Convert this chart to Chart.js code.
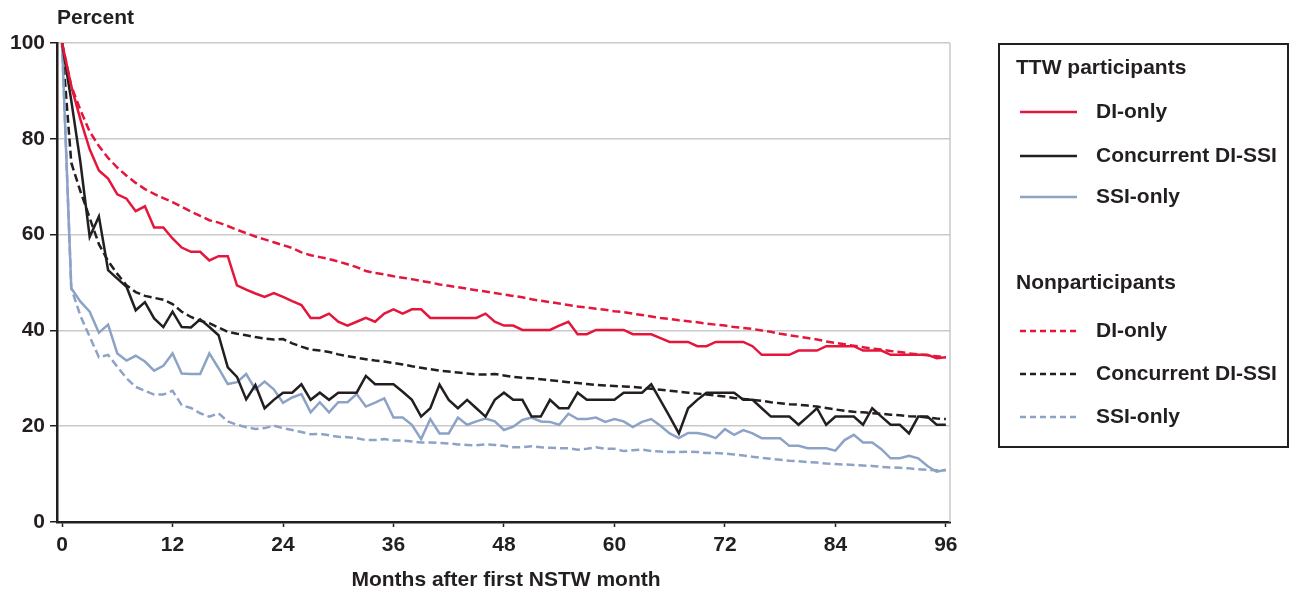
<!DOCTYPE html>
<html>
<head>
<meta charset="utf-8">
<script src="https://cdn.jsdelivr.net/npm/chart.js@4"></script>
<style>
  html, body { margin: 0; padding: 0; background: #fff; }
  #wrap { width: 1290px; height: 589px; position: relative; }
</style>
</head>
<body>
<div id="wrap"><canvas id="chart" width="1290" height="589"></canvas></div>
<script>
const months = Array.from({ length: 97 }, (_, i) => i);
const xTicks = [0, 12, 24, 36, 48, 60, 72, 84, 96];
const yTicks = [0, 20, 40, 60, 80, 100];

// TTW participants
const ttwDI = [100, 91, 84, 77.8, 73.4, 71.7, 68.4, 67.5, 64.9, 65.9,
  61.5, 61.5, 59.2, 57.3, 56.4, 56.4, 54.6, 55.5, 55.5, 49.4,
  48.5, 47.7, 47.0, 47.8, 47.0, 46.1, 45.3, 42.6, 42.6, 43.5,
  41.8, 41.0, 41.8, 42.6, 41.8, 43.5, 44.4, 43.5, 44.4, 44.4,
  42.6, 42.6, 42.6, 42.6, 42.6, 42.6, 43.5, 41.8, 41.0, 41.0,
  40.1, 40.1, 40.1, 40.1, 41.0, 41.8, 39.2, 39.2, 40.1, 40.1,
  40.1, 40.1, 39.2, 39.2, 39.2, 38.4, 37.6, 37.6, 37.6, 36.7,
  36.7, 37.6, 37.6, 37.6, 37.6, 36.7, 34.9, 34.9, 34.9, 34.9,
  35.8, 35.8, 35.8, 36.7, 36.7, 36.7, 36.7, 35.8, 35.8, 35.8,
  34.9, 34.9, 34.9, 34.9, 34.9, 34.2, 34.4];
const ttwConc = [100, 88, 75, 59.5, 63.8, 52.6, 50.8, 49.1, 44.2, 45.9,
  42.5, 40.7, 43.9, 40.7, 40.6, 42.3, 40.7, 39.0, 32.3, 30.3,
  25.6, 28.6, 23.75, 25.5, 27.0, 27.0, 28.75, 25.5, 27.0, 25.5,
  27.0, 27.0, 27.0, 30.5, 28.75, 28.75, 28.75, 27.2, 25.5, 22.0,
  23.75, 28.7, 25.5, 23.75, 25.5, 23.75, 22.0, 25.5, 27.0, 25.5,
  25.5, 22.0, 22.0, 25.5, 23.75, 23.75, 27.0, 25.5, 25.5, 25.5,
  25.5, 27.0, 27.0, 27.0, 28.75, 25.4, 22.0, 18.5, 23.75, 25.5,
  27.0, 27.0, 27.0, 27.0, 25.5, 25.5, 23.75, 22.0, 22.0, 22.0,
  20.3, 22.0, 23.75, 20.3, 22.0, 22.0, 22.0, 20.3, 23.75, 22.0,
  20.3, 20.3, 18.5, 22.0, 22.0, 20.3, 20.3];
const ttwSSI = [100, 48.8, 46.0, 43.9, 39.5, 41.2, 35.2, 33.7, 34.7, 33.5,
  31.6, 32.6, 35.2, 31.0, 30.9, 30.9, 35.2, 32.1, 28.8, 29.2,
  30.9, 27.7, 29.3, 27.7, 24.9, 26.0, 26.7, 22.9, 25.0, 22.9,
  25.0, 25.0, 26.7, 24.1, 24.9, 25.8, 21.8, 21.8, 20.3, 17.3,
  21.5, 18.5, 18.5, 21.8, 20.3, 21.0, 21.6, 21.0, 19.2, 19.9,
  21.3, 21.8, 21.0, 20.9, 20.3, 22.6, 21.5, 21.5, 21.8, 20.9,
  21.5, 21.0, 19.8, 20.9, 21.5, 20.1, 18.5, 17.5, 18.6, 18.6,
  18.2, 17.5, 19.4, 18.2, 19.2, 18.5, 17.5, 17.5, 17.5, 15.9,
  15.9, 15.4, 15.4, 15.4, 14.9, 17.1, 18.2, 16.6, 16.6, 15.2,
  13.3, 13.3, 13.8, 13.3, 11.7, 10.5, 10.9];

// Nonparticipants
const nonDI = [100, 91, 86, 81.5, 78.5, 76, 74, 72.3, 70.8, 69.5,
  68.5, 67.6, 66.8, 65.8, 64.8, 63.9, 63.0, 62.5, 61.8, 61.0,
  60.3, 59.6, 59.0, 58.4, 57.8, 57.2, 56.3, 55.7, 55.3, 54.9,
  54.4, 53.8, 53.2, 52.4, 52.0, 51.7, 51.3, 51.0, 50.7, 50.3,
  50.0, 49.6, 49.3, 49.0, 48.7, 48.4, 48.1, 47.8, 47.5, 47.2,
  46.9, 46.5, 46.2, 45.9, 45.6, 45.3, 45.0, 44.8, 44.5, 44.3,
  44.0, 43.8, 43.5, 43.2, 42.9, 42.6, 42.4, 42.1, 41.9, 41.7,
  41.4, 41.2, 41.0, 40.7, 40.5, 40.3, 40.0, 39.7, 39.3, 39.0,
  38.7, 38.4, 38.1, 37.7, 37.4, 37.1, 36.8, 36.5, 36.2, 36.0,
  35.7, 35.5, 35.2, 35.0, 34.8, 34.6, 34.4];
const nonConc = [100, 75, 69, 63.5, 58, 54.5, 51.8, 49.4, 48.0, 47.2,
  46.8, 46.4, 45.5, 43.9, 42.8, 42.0, 41.5, 40.6, 39.7, 39.3,
  39.0, 38.6, 38.3, 38.1, 38.2, 37.3, 36.6, 36.0, 35.8, 35.5,
  35.0, 34.6, 34.3, 34.0, 33.7, 33.5, 33.2, 32.9, 32.5, 32.2,
  31.9, 31.6, 31.4, 31.2, 31.0, 30.8, 30.8, 30.9, 30.6, 30.3,
  30.1, 30.0, 29.8, 29.6, 29.4, 29.2, 29.0, 28.8, 28.6, 28.5,
  28.4, 28.3, 28.2, 28.0, 27.8, 27.6, 27.4, 27.2, 27.0, 26.8,
  26.6, 26.4, 26.2, 25.9, 25.7, 25.5, 25.3, 25.0, 24.8, 24.6,
  24.5, 24.3, 24.1, 23.8, 23.5, 23.2, 23.0, 22.9, 22.7, 22.6,
  22.4, 22.3, 22.1, 22.0, 21.8, 21.6, 21.5];
const nonSSI = [100, 48.8, 43.0, 38.7, 34.4, 34.9, 32.4, 30.0, 28.2, 27.4,
  26.6, 26.6, 27.4, 24.4, 23.8, 22.7, 22.0, 22.7, 21.0, 20.3,
  19.8, 19.4, 19.6, 20.1, 19.6, 19.2, 18.8, 18.3, 18.4, 18.1,
  17.8, 17.7, 17.5, 17.1, 17.1, 17.3, 17.0, 17.0, 16.8, 16.6,
  16.6, 16.5, 16.4, 16.2, 16.1, 16.0, 16.2, 16.1, 15.9, 15.6,
  15.6, 15.8, 15.6, 15.5, 15.4, 15.4, 15.1, 15.3, 15.6, 15.3,
  15.3, 14.8, 15.0, 15.1, 14.8, 14.7, 14.6, 14.6, 14.7, 14.6,
  14.4, 14.4, 14.3, 14.1, 13.9, 13.6, 13.4, 13.2, 13.0, 12.8,
  12.7, 12.5, 12.4, 12.2, 12.1, 12.0, 11.9, 11.8, 11.7, 11.5,
  11.4, 11.3, 11.2, 11.0, 10.9, 10.8, 10.8];

const RED = '#e4163b';
const BLACK = '#231f20';
const BLUE = '#8da3c6';
const GRID = '#c9c9c9';
const FONT = "'Liberation Sans', Arial, Helvetica, sans-serif";
const DASH = [8, 4];

function pts(values) {
    return months.map((m, i) => ({ x: m, y: values[i] }));
}

function series(label, values, color, dashed) {
    return {
        label: label,
        data: pts(values),
        borderColor: color,
        backgroundColor: color,
        borderWidth: 2.5,
        borderDash: dashed ? DASH : [],
        pointRadius: 0,
        tension: 0,
        fill: false
    };
}

const legendGroups = [
    { title: 'TTW participants', items: [
        { label: 'DI-only', color: RED, dashed: false },
        { label: 'Concurrent DI-SSI', color: BLACK, dashed: false },
        { label: 'SSI-only', color: BLUE, dashed: false }
    ] },
    { title: 'Nonparticipants', items: [
        { label: 'DI-only', color: RED, dashed: true },
        { label: 'Concurrent DI-SSI', color: BLACK, dashed: true },
        { label: 'SSI-only', color: BLUE, dashed: true }
    ] }
];

// extra drawing: right frame line, "Percent", x title, legend box
const decorations = {
    id: 'decorations',
    afterDraw(chart) {
        const { ctx, chartArea } = chart;
        ctx.save();

        ctx.strokeStyle = GRID;
        ctx.lineWidth = 1.5;
        ctx.beginPath();
        ctx.moveTo(chartArea.right, chartArea.top);
        ctx.lineTo(chartArea.right, chartArea.bottom);
        ctx.stroke();

        ctx.fillStyle = BLACK;
        ctx.font = `bold 21px ${FONT}`;
        ctx.textBaseline = 'middle';
        ctx.textAlign = 'left';
        ctx.fillText('Percent', 57, 18);

        ctx.textAlign = 'center';
        ctx.fillText('Months after first NSTW month', 506, 580);

        // legend
        ctx.strokeStyle = BLACK;
        ctx.lineWidth = 2;
        ctx.strokeRect(999, 44, 289, 403);

        const titleY = [68, 283];
        const itemY = [[112, 156, 197], [331, 374, 417]];
        ctx.font = `bold 21px ${FONT}`;
        legendGroups.forEach((g, gi) => {
            ctx.fillStyle = BLACK;
            ctx.textAlign = 'left';
            ctx.fillText(g.title, 1016, titleY[gi]);
            g.items.forEach((it, ii) => {
                const y = itemY[gi][ii];
                ctx.strokeStyle = it.color;
                ctx.lineWidth = 2.5;
                ctx.setLineDash(it.dashed ? [6, 4] : []);
                ctx.beginPath();
                ctx.moveTo(1020, y);
                ctx.lineTo(1077, y);
                ctx.stroke();
                ctx.setLineDash([]);
                ctx.fillStyle = BLACK;
                ctx.fillText(it.label, 1096, y);
            });
        });
        ctx.restore();
    }
};

const tickFont = { family: FONT, size: 21, weight: 'bold' };

new Chart(document.getElementById('chart').getContext('2d'), {
    type: 'line',
    data: {
        datasets: [
            series('TTW DI-only', ttwDI, RED, false),
            series('TTW Concurrent DI-SSI', ttwConc, BLACK, false),
            series('TTW SSI-only', ttwSSI, BLUE, false),
            series('Nonparticipants DI-only', nonDI, RED, true),
            series('Nonparticipants Concurrent DI-SSI', nonConc, BLACK, true),
            series('Nonparticipants SSI-only', nonSSI, BLUE, true)
        ]
    },
    options: {
        responsive: false,
        animation: false,
        layout: { padding: { left: 0, right: 340, top: 43, bottom: 0 } },
        plugins: {
            legend: { display: false },
            tooltip: { enabled: false }
        },
        scales: {
            x: {
                type: 'linear',
                min: -0.55,
                max: 96.45,
                afterBuildTicks: s => { s.ticks = xTicks.map(v => ({ value: v })); },
                afterFit: s => { s.height = 67; },
                grid: { drawOnChartArea: false, tickLength: 5, tickColor: BLACK, tickWidth: 1.5 },
                border: { color: BLACK, width: 2.5 },
                ticks: { color: BLACK, font: tickFont, padding: 6, maxRotation: 0, autoSkip: false }
            },
            y: {
                min: 0,
                max: 100,
                afterBuildTicks: s => { s.ticks = yTicks.map(v => ({ value: v })); },
                afterFit: s => { s.width = 57; },
                grid: {
                    color: c => (c.tick && c.tick.value === 0) ? 'rgba(0,0,0,0)' : GRID,
                    lineWidth: 1.5,
                    tickLength: 7,
                    tickColor: BLACK,
                    tickWidth: 1.5
                },
                border: { color: BLACK, width: 2.5 },
                ticks: { color: BLACK, font: tickFont, padding: 5 }
            }
        }
    },
    plugins: [decorations]
});
</script>
</body>
</html>
